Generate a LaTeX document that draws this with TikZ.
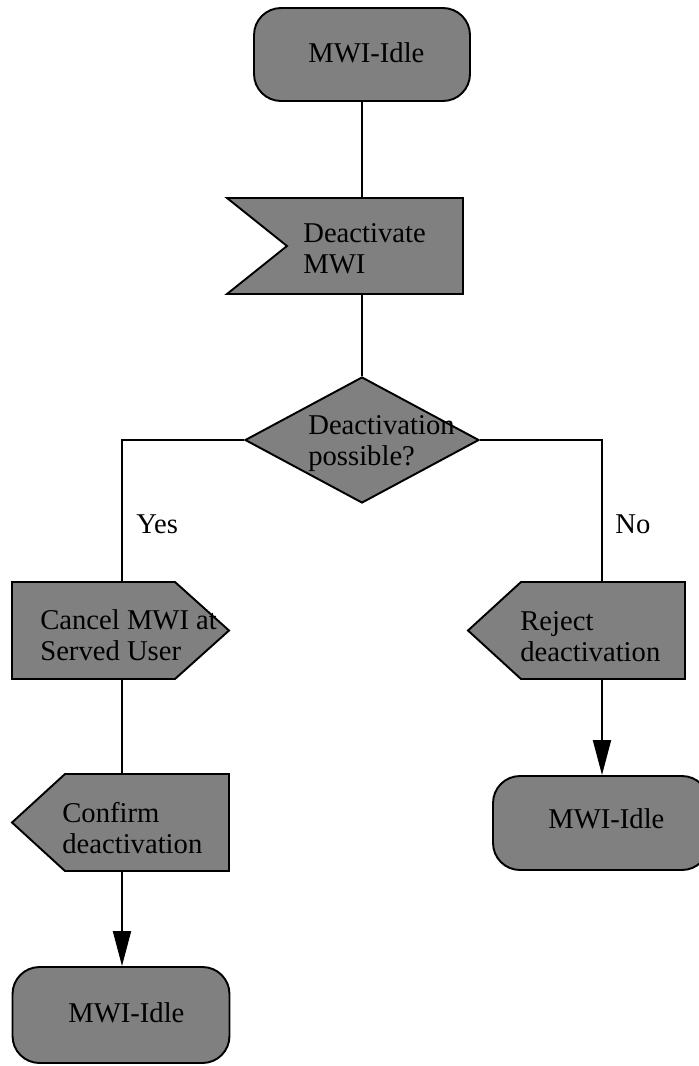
\documentclass[tikz,border=0pt]{standalone}
\usepackage{fontspec}
\setmainfont{Liberation Serif}
\usepackage{tikz}
\usetikzlibrary{shapes.geometric}
\usetikzlibrary{arrows.meta}
\tikzset{
  statebox/.style={draw=black, fill=black!50, line width=1.1pt, rounded corners=0.54cm, inner sep=0},
  sigbox/.style={draw=black, fill=black!50, line width=1.1pt},
  decbox/.style={draw=black, fill=black!50, line width=1.1pt, diamond, inner sep=0},
  flow/.style={black, line width=1.1pt},
  lbl/.style={font=\fontsize{16.3}{17.2}\selectfont, inner sep=0, align=left, anchor=base west},
}

\begin{document}
\begin{tikzpicture}[x=0.02cm, y=-0.02cm]
\useasboundingbox (0,0) rectangle (699,1066);

% states
\node[statebox, minimum width=4.32cm, minimum height=1.86cm] (idleTop) at (362,54.5) {};
\node[statebox, minimum width=4.34cm, minimum height=1.92cm] (idleYes) at (121,1015) {};
\node[statebox, minimum width=4.32cm, minimum height=1.88cm] (idleNo) at (601,823) {};

% input signal
\path[sigbox] (227,198) -- (463,198) -- (463,294) -- (227,294) -- (287,246) -- cycle;
\coordinate (deactN) at (362,198);
\coordinate (deactS) at (362,294);

% decision
\node[decbox, minimum width=4.68cm, minimum height=2.52cm] (possible) at (362,440) {};

% output signals
\path[sigbox] (12,582) -- (175,582) -- (229,630.5) -- (175,679) -- (12,679) -- cycle;
\coordinate (cancelN) at (122,582);
\coordinate (cancelS) at (122,679);
\path[sigbox] (65,774) -- (229,774) -- (229,871) -- (65,871) -- (12,822.5) -- cycle;
\coordinate (confirmN) at (122,774);
\coordinate (confirmS) at (122,871);
\path[sigbox] (521,582) -- (685,582) -- (685,679) -- (521,679) -- (468,630.5) -- cycle;
\coordinate (rejectN) at (602,582);
\coordinate (rejectS) at (602,679);

% connectors
\draw[flow] (idleTop.south) -- (deactN);
\draw[flow] (deactS) -- (possible.north);
\draw[flow] (possible.west) -| (cancelN);
\draw[flow] (possible.east) -| (rejectN);
\draw[flow] (cancelS) -- (confirmN);
\draw[flow, -{Triangle[length=0.7cm, width=0.36cm]}] (confirmS) -- (idleYes.north -| confirmS);
\draw[flow, -{Triangle[length=0.7cm, width=0.36cm]}] (rejectS) -- (idleNo.north -| rejectS);

% texts (base = last line)
\node[lbl] (idleTopT) at (308,62) {MWI-Idle};
\node[lbl] (deactT) at (303,273) {Deactivate\\MWI};
\node[lbl] (possibleT) at (308,465) {Deactivation\\possible?};
\node[lbl] (cancelT) at (40,660) {Cancel MWI at\\Served User};
\node[lbl] (confirmT) at (62,853) {Confirm\\deactivation};
\node[lbl] (rejectT) at (520,661) {Reject\\deactivation};
\node[lbl] (idleYesT) at (68,1022) {MWI-Idle};
\node[lbl] (idleNoT) at (548,828) {MWI-Idle};
\node[lbl] (yes) at (136,533) {Yes};
\node[lbl] (no) at (615,533) {No};
\end{tikzpicture}
\end{document}
